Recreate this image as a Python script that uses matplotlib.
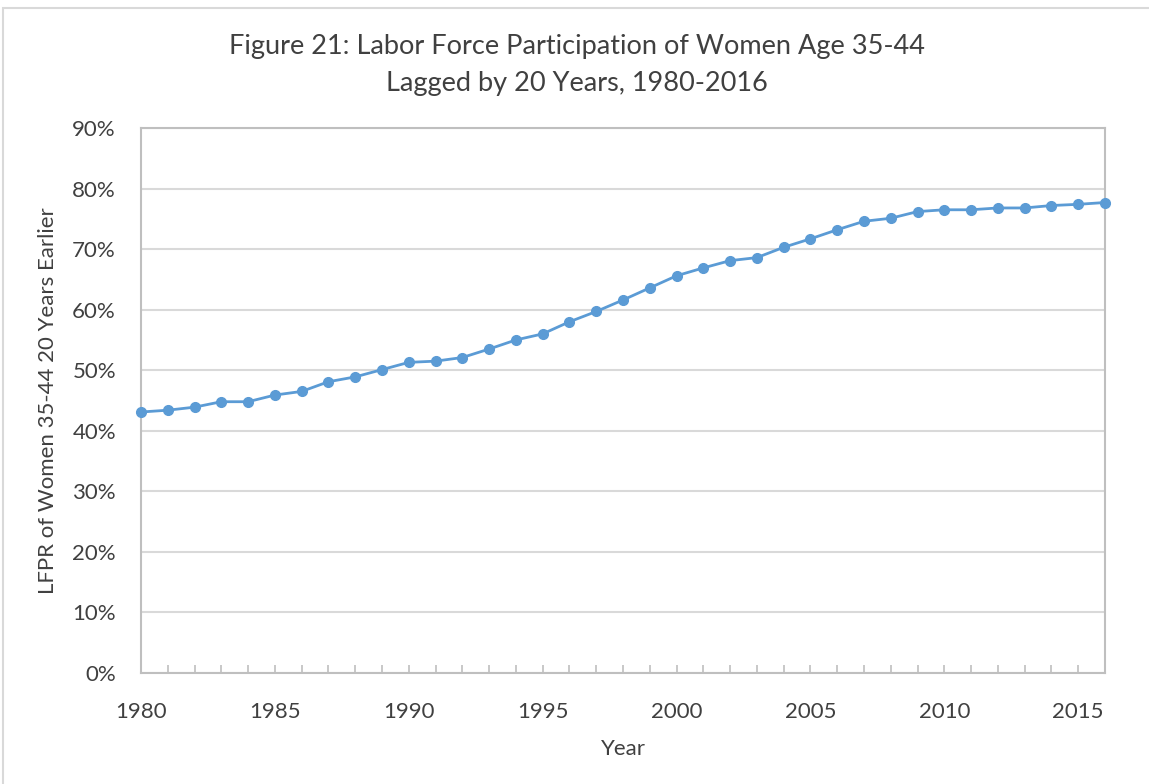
import matplotlib.pyplot as plt
from matplotlib.patches import Rectangle
from matplotlib.ticker import MultipleLocator, FuncFormatter

plt.rcParams['font.family'] = ['Lato', 'DejaVu Sans']

years = list(range(1980, 2017))
lfpr = [43.1, 43.4, 43.9, 44.8, 44.8, 45.9, 46.5, 48.1, 48.9, 50.1,
        51.3, 51.5, 52.1, 53.5, 55.0, 56.0, 58.0, 59.7, 61.6, 63.6,
        65.6, 66.9, 68.1, 68.6, 70.3, 71.7, 73.2, 74.6, 75.1, 76.2,
        76.5, 76.5, 76.8, 76.8, 77.2, 77.4, 77.7]

title = "Figure 21: Labor Force Participation of Women Age 35-44\nLagged by 20 Years, 1980-2016"
blue = '#5B9BD5'
grid_c = '#D9D9D9'
axis_c = '#BFBFBF'
text_c = '#404040'

fig = plt.figure(figsize=(11.49, 7.84), dpi=100)
ax = fig.add_axes([0.1227, 0.1416, 0.839, 0.6951])

ax.plot(years, lfpr, color=blue, lw=2, marker='o', ms=7, clip_on=False, zorder=3)

ax.set_xlim(1980, 2016)
ax.set_ylim(0, 90)
ax.yaxis.set_major_locator(MultipleLocator(10))
ax.yaxis.set_major_formatter(FuncFormatter(lambda v, p: f"{int(v)}%"))
ax.xaxis.set_major_locator(MultipleLocator(5))
ax.xaxis.set_minor_locator(MultipleLocator(1))

ax.grid(axis='y', color=grid_c, lw=1.5)
ax.set_axisbelow(True)
for s in ax.spines.values():
    s.set_color(axis_c)
    s.set_linewidth(1.5)

ax.tick_params(axis='x', which='both', direction='in', length=6, width=1.2, color=axis_c,
               labelsize=16, labelcolor=text_c, pad=21)
ax.tick_params(axis='y', length=0, labelsize=16, labelcolor=text_c, pad=18)

ax.set_xlabel("Year", fontsize=16, color=text_c, labelpad=12)
# y label placed directly in figure coords
fig.text(0.0418, 0.489, "LFPR of Women 35-44 20 Years Earlier", rotation=90,
         ha='center', va='center', fontsize=16, color=text_c)

fig.text(0.502, 0.917, title, ha='center', va='center', fontsize=19.5, color=text_c, linespacing=1.6)

fig.patches.append(Rectangle((0.003, -0.01), 1.0, 1.0, transform=fig.transFigure,
                             fill=False, edgecolor='#D9D9D9', lw=1.5))

fig.savefig('out.png', dpi=100)
